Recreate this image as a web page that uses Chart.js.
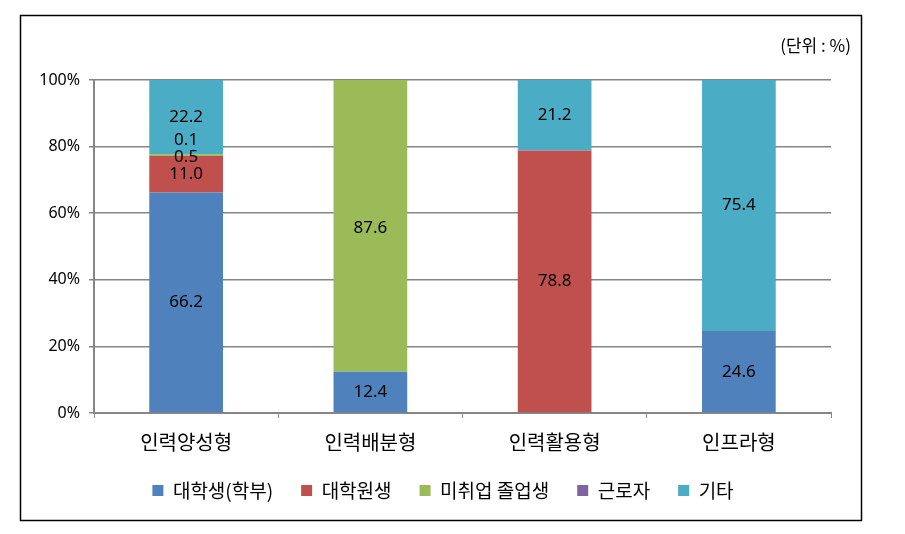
<!DOCTYPE html>
<html>
<head>
<meta charset="utf-8">
<script src="https://cdn.jsdelivr.net/npm/chart.js@4.4.0/dist/chart.umd.min.js"></script>
<style>
  html, body { margin: 0; padding: 0; background: #fff; }
  #wrap { width: 905px; height: 534px; position: relative; }
</style>
</head>
<body>
<div id="wrap"><canvas id="bar-chart"></canvas></div>
<script>
// data
const categories = ['인력양성형', '인력배분형', '인력활용형', '인프라형'];
const seriesNames = ['대학생(학부)', '대학원생', '미취업 졸업생', '근로자', '기타'];
const undergrad = [66.2, 12.4, 0, 24.6];
const gradStudent = [11.0, 0, 78.8, 0];
const unemployedGrad = [0.5, 87.6, 0, 0];
const worker = [0.1, 0, 0, 0];
const etc = [22.2, 0, 21.2, 75.4];
const yTicks = [0, 20, 40, 60, 80, 100];

const colors = ['#4F81BD', '#C0504D', '#9BBB59', '#8064A2', '#4BACC6'];
const seriesValues = [undergrad, gradStudent, unemployedGrad, worker, etc];

const FONT = "'Noto Sans CJK KR', 'Noto Sans', sans-serif";
const NUMFONT = "'Noto Sans', 'Noto Sans CJK KR', sans-serif";

// small label shifts so tiny segments don't sit on top of each other
const labelShift = [0, 0, 2, -14, 0];

const frameAndLabels = {
    id: 'frameAndLabels',
    afterLayout(chart) {
        // y axis box is narrow so the legend centres like the original; widen its clip area
        chart.scales.y.left = 20;
    },
    beforeDraw(chart) {
        const c = chart.ctx;
        c.save();
        c.fillStyle = '#fff';
        c.fillRect(0, 0, chart.width, chart.height);
        c.strokeStyle = '#000';
        c.lineWidth = 1.5;
        c.strokeRect(20.5, 15.5, 841, 505);
        c.fillStyle = '#000';
        c.font = '17px ' + FONT;
        c.textAlign = 'right';
        c.textBaseline = 'middle';
        c.fillText('(단위 : %)', 851, 46);
        c.restore();
    },
    afterDatasetsDraw(chart) {
        const c = chart.ctx;
        c.save();
        c.fillStyle = '#000';
        c.font = '17px ' + NUMFONT;
        c.textAlign = 'center';
        c.textBaseline = 'middle';
        chart.data.datasets.forEach((ds, i) => {
            const meta = chart.getDatasetMeta(i);
            meta.data.forEach((bar, j) => {
                const v = ds.data[j];
                if (!v) return;
                const y = (bar.y + bar.base) / 2 + labelShift[i];
                c.fillText(v.toFixed(1), bar.x, y);
            });
        });
        c.restore();
    }
};

const barData = {
    labels: categories,
    datasets: seriesNames.map((name, i) => ({
        label: name,
        data: seriesValues[i],
        backgroundColor: colors[i],
        borderWidth: 0,
        barPercentage: 0.4,
        categoryPercentage: 1
    }))
};

const barOptions = {
    responsive: true,
    maintainAspectRatio: false,
    animation: false,
    layout: {
        padding: { left: 55, right: 74, top: 80, bottom: 24 }
    },
    plugins: {
        legend: {
            position: 'bottom',
            labels: {
                boxWidth: 11,
                boxHeight: 11,
                padding: 28,
                color: '#000',
                font: { size: 19, family: FONT }
            }
        },
        title: { display: false },
        tooltip: { enabled: false }
    },
    scales: {
        x: {
            stacked: true,
            border: { color: '#868686', width: 2 },
            grid: {
                offset: true,
                drawOnChartArea: false,
                drawTicks: true,
                tickLength: 5,
                color: '#868686'
            },
            ticks: {
                color: '#000',
                padding: 12,
                font: { size: 20, family: FONT }
            },
            afterFit(scale) { scale.height = 40; }
        },
        y: {
            stacked: true,
            min: 0,
            max: 100,
            border: { color: '#868686', width: 2 },
            grid: {
                color: '#868686',
                lineWidth: 1.5,
                tickLength: 5
            },
            afterBuildTicks(scale) {
                scale.ticks = yTicks.map(v => ({ value: v }));
            },
            ticks: {
                color: '#000',
                padding: 9,
                font: { size: 16, family: NUMFONT },
                callback: v => v + '%'
            },
            afterFit(scale) { scale.width = 39; }
        }
    }
};

const barChart = new Chart(document.getElementById('bar-chart'), {
    type: 'bar',
    data: barData,
    options: barOptions,
    plugins: [frameAndLabels]
});
</script>
</body>
</html>
